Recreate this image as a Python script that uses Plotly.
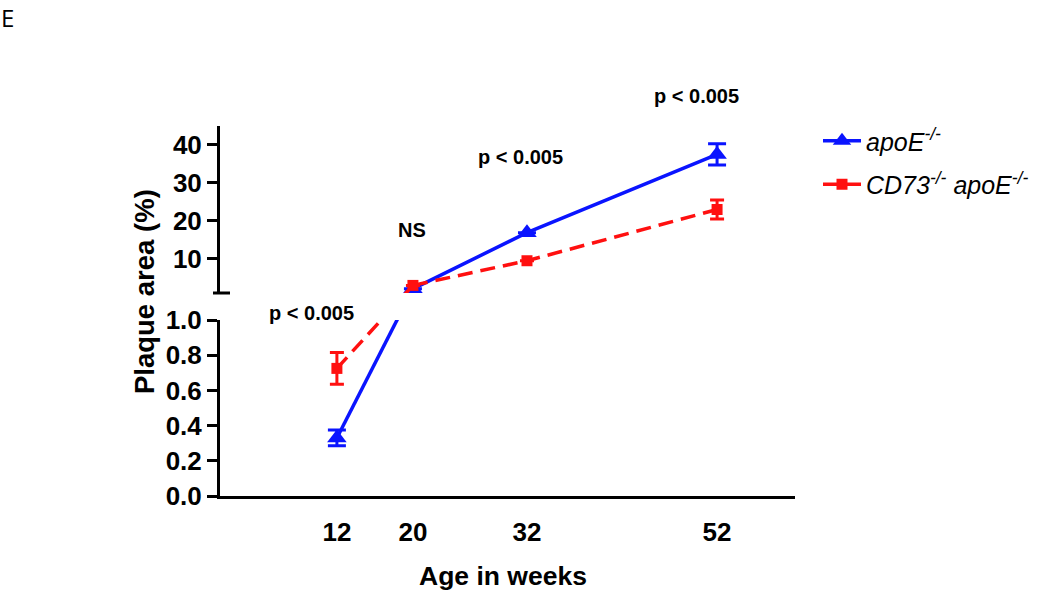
import plotly.graph_objects as go

# ---------------- data ----------------
weeks = [12, 20, 32, 52]
week_labels = ["12", "20", "32", "52"]

apoe_mean = [0.33, 2.1, 16.9, 37.5]
apoe_err = [0.045, None, None, 2.8]

cd73_mean = [0.725, 3.0, 9.5, 23.0]
cd73_err = [0.09, None, None, 2.5]

lower_ticks = [0.0, 0.2, 0.4, 0.6, 0.8, 1.0]
upper_ticks = [10, 20, 30, 40]

sig_labels = ["p < 0.005", "NS", "p < 0.005", "p < 0.005"]

# ---------------- layout geometry (pixels) ----------------
W, H = 1050, 590
L, R, T, B = 220, 795, 126, 496
LOW_TOP = 320      # pixel of top of lower panel
UP_BOT = 293       # pixel of bottom of upper panel
LOW_RANGE = [0.0, 1.0]
UP_RANGE = [1.0, 45.0]
X_RANGE = [-0.3, 60.2]


def px(xp):
    return (xp - L) / (R - L)


def py(yp):
    return (B - yp) / (B - T)


def low_pix(v):
    return B - (v - LOW_RANGE[0]) / (LOW_RANGE[1] - LOW_RANGE[0]) * (B - LOW_TOP)


def up_pix(v):
    return UP_BOT - (v - UP_RANGE[0]) / (UP_RANGE[1] - UP_RANGE[0]) * (UP_BOT - T)


def pix_to_low(p):
    return LOW_RANGE[0] + (B - p) / (B - LOW_TOP) * (LOW_RANGE[1] - LOW_RANGE[0])


def pix_to_up(p):
    return UP_RANGE[0] + (UP_BOT - p) / (UP_BOT - T) * (UP_RANGE[1] - UP_RANGE[0])


BLUE = "#0a14ff"
RED = "#ff1010"
FONT = "Liberation Sans"

fig = go.Figure()

series = [
    dict(name="<i>apoE<sup>-/-</sup></i>", mean=apoe_mean, err=apoe_err, color=BLUE,
         symbol="triangle-up", size=17, dash="solid", cap=9, group="a"),
    dict(name="<i>CD73<sup>-/-</sup> apoE<sup>-/-</sup></i>", mean=cd73_mean, err=cd73_err,
         color=RED, symbol="square", size=11, dash="15px,8px", cap=7, group="b"),
]

for s in series:
    m, e = s["mean"], s["err"]
    # connecting segment 12 -> 20 drawn straight across the axis break (screen space)
    y12_in_up = pix_to_up(low_pix(m[0]))
    y20_in_low = pix_to_low(up_pix(m[1]))
    fig.add_trace(go.Scatter(
        x=weeks[:2], y=[m[0], y20_in_low], mode="lines",
        line=dict(color=s["color"], width=3.5, dash=s["dash"]),
        xaxis="x", yaxis="y", showlegend=False, hoverinfo="skip"))
    fig.add_trace(go.Scatter(
        x=weeks[:2], y=[y12_in_up, m[1]], mode="lines",
        line=dict(color=s["color"], width=3.5, dash=s["dash"]),
        xaxis="x2", yaxis="y2", showlegend=False, hoverinfo="skip"))
    # lower panel point (12 weeks)
    fig.add_trace(go.Scatter(
        x=weeks[:1], y=m[:1], mode="markers",
        marker=dict(symbol=s["symbol"], size=s["size"], color=s["color"]),
        error_y=dict(type="data", array=e[:1], color=s["color"], thickness=3, width=s["cap"]),
        cliponaxis=False, xaxis="x", yaxis="y", showlegend=False))
    # upper panel points (20, 32, 52 weeks)
    fig.add_trace(go.Scatter(
        x=weeks[1:], y=m[1:], mode="lines+markers", name=s["name"],
        legendgroup=s["group"],
        line=dict(color=s["color"], width=3.5, dash=s["dash"]),
        marker=dict(symbol=s["symbol"], size=s["size"], color=s["color"]),
        error_y=dict(type="data", array=e[1:], color=s["color"], thickness=3, width=s["cap"]),
        cliponaxis=False, xaxis="x2", yaxis="y2", showlegend=True))

tickfont = dict(family=FONT, size=26, color="black", weight="bold")

fig.update_layout(
    width=W, height=H,
    margin=dict(l=L, r=W - R, t=T, b=H - B, pad=0),
    plot_bgcolor="white", paper_bgcolor="white",
    xaxis=dict(domain=[0, 1], range=X_RANGE, anchor="y",
               tickvals=weeks, ticktext=week_labels, ticks="",
               ticklabelstandoff=11,
               showline=True, linecolor="black", linewidth=3,
               showgrid=False, zeroline=False, tickfont=tickfont),
    xaxis2=dict(domain=[0, 1], range=X_RANGE, anchor="y2", matches="x",
                visible=False, showgrid=False, zeroline=False),
    yaxis=dict(domain=[0, py(LOW_TOP)], range=LOW_RANGE, anchor="x",
               tickvals=lower_ticks, tickformat=".1f",
               ticks="outside", ticklen=10, tickwidth=3, tickcolor="black",
               showline=True, linecolor="black", linewidth=3,
               showgrid=False, zeroline=False, tickfont=tickfont),
    yaxis2=dict(domain=[py(UP_BOT), 1], range=UP_RANGE, anchor="x2",
                tickvals=upper_ticks,
                ticks="outside", ticklen=10, tickwidth=3, tickcolor="black",
                showline=True, linecolor="black", linewidth=3,
                showgrid=False, zeroline=False, tickfont=tickfont),
    legend=dict(x=px(818), y=py(118), xanchor="left", yanchor="top",
                font=dict(family=FONT, size=25, color="black"),
                bgcolor="rgba(0,0,0,0)", tracegroupgap=8, itemwidth=38),
    showlegend=True,
)

# axis-break mark at bottom of upper axis
fig.add_shape(type="line", xref="paper", yref="paper",
              x0=px(213), x1=px(230), y0=py(UP_BOT), y1=py(UP_BOT),
              line=dict(color="black", width=3))

annots = []
# significance labels
sig_pos = [(311, 313), (412, 230), (520, 157), (696, 96)]
for lab, (xp, yp) in zip(sig_labels, sig_pos):
    annots.append(dict(text=lab, x=px(xp), y=py(yp), xref="paper", yref="paper",
                       showarrow=False, xanchor="center", yanchor="middle",
                       font=dict(family=FONT, size=20, color="black", weight="bold")))
# axis titles
annots.append(dict(text="Age in weeks", x=px(503), y=py(576), xref="paper", yref="paper",
                   showarrow=False, xanchor="center", yanchor="middle",
                   font=dict(family=FONT, size=26.5, color="black", weight="bold")))
annots.append(dict(text="Plaque area (%)", x=px(144), y=py(292), xref="paper", yref="paper",
                   showarrow=False, xanchor="center", yanchor="middle", textangle=-90,
                   font=dict(family=FONT, size=27.5, color="black", weight="bold")))
# panel letter
annots.append(dict(text="E", x=px(0), y=py(0), xref="paper", yref="paper",
                   showarrow=False, xanchor="left", yanchor="top", borderpad=0,
                   font=dict(family="Open Sans", size=24, color="black")))
fig.update_layout(annotations=annots)

fig.write_html("out.html", config={"displayModeBar": False},
               post_script="document.body.style.margin='0px';")
